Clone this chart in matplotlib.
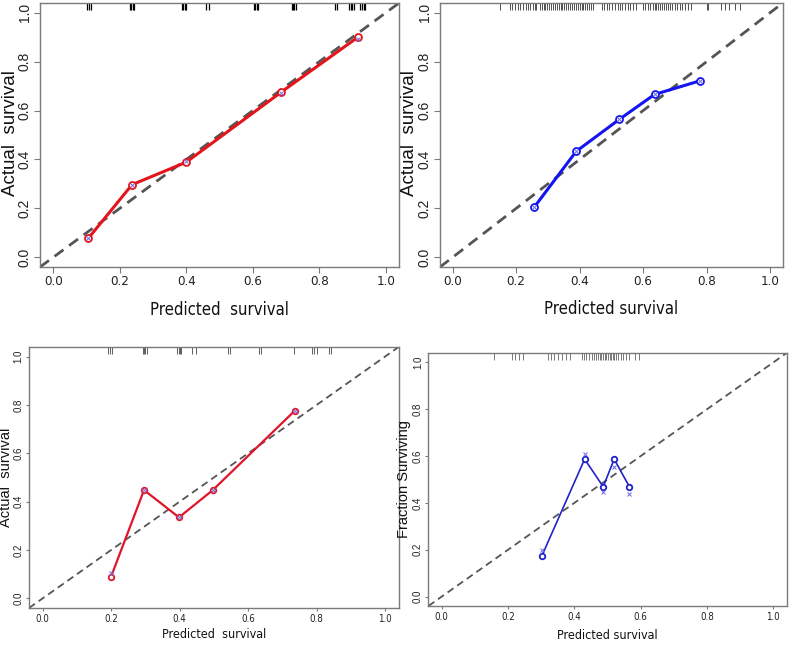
import matplotlib
matplotlib.use("Agg")
import matplotlib.pyplot as plt
import matplotlib.transforms as mtransforms
from matplotlib import font_manager

# Panel A: red calibration curve (top left)
a_pred = [0.105, 0.237, 0.400, 0.685, 0.916]
a_obs = [0.077, 0.297, 0.389, 0.675, 0.900]
a_corr = [0.080, 0.295, 0.392, 0.672, 0.893]
a_err = [0.012, 0.012, 0.012, 0.012, 0.012]
a_rug = [0.101, 0.106, 0.112, 0.231, 0.235, 0.239, 0.243, 0.387, 0.391, 0.395, 0.399,
         0.458, 0.468, 0.604, 0.608, 0.612, 0.616, 0.717, 0.721, 0.725, 0.729,
         0.848, 0.853, 0.890, 0.895, 0.900, 0.905, 0.924, 0.929, 0.934, 0.938]

# Panel B: blue calibration curve (top right)
b_pred = [0.257, 0.389, 0.525, 0.636, 0.780]
b_obs = [0.205, 0.433, 0.564, 0.666, 0.722]
b_corr = [0.205, 0.433, 0.564, 0.666, 0.722]
b_err = [0.012, 0.012, 0.012, 0.012, 0.012]
b_rug = [0.149, 0.180, 0.186, 0.195, 0.205, 0.213, 0.222, 0.231, 0.238, 0.245, 0.252,
         0.258, 0.262, 0.275, 0.281, 0.287, 0.292, 0.298, 0.304, 0.310, 0.316, 0.322,
         0.328, 0.334, 0.340, 0.346, 0.352, 0.358, 0.364, 0.370, 0.376, 0.382, 0.388,
         0.394, 0.400, 0.406, 0.412, 0.418, 0.424, 0.430, 0.436, 0.443, 0.470, 0.478,
         0.486, 0.494, 0.503, 0.512, 0.520, 0.528, 0.535, 0.543, 0.552, 0.560, 0.568,
         0.578, 0.600, 0.607, 0.614, 0.622, 0.630, 0.636, 0.642, 0.648, 0.654, 0.660,
         0.666, 0.672, 0.678, 0.685, 0.692, 0.700, 0.708, 0.716, 0.724, 0.732, 0.742,
         0.752, 0.800, 0.806, 0.845, 0.858, 0.872, 0.890, 0.905]

# Panel C: red calibration curve (bottom left)
c_pred = [0.199, 0.296, 0.398, 0.497, 0.737]
c_obs = [0.087, 0.448, 0.335, 0.448, 0.777]
c_corr = [0.106, 0.448, 0.335, 0.448, 0.777]
c_err = [0.008, 0.008, 0.008, 0.008, 0.008]
c_rug = [0.192, 0.197, 0.203, 0.292, 0.296, 0.300, 0.304, 0.392, 0.397, 0.401, 0.405,
         0.437, 0.447, 0.542, 0.547, 0.632, 0.637, 0.735, 0.787, 0.793, 0.800, 0.836, 0.842]

# Panel D: blue calibration curve (bottom right)
d_pred = [0.302, 0.431, 0.487, 0.520, 0.566]
d_obs = [0.174, 0.587, 0.469, 0.587, 0.469]
d_corr = [0.199, 0.607, 0.448, 0.555, 0.437]
d_err = [0.008, 0.008, 0.008, 0.008, 0.008]
d_rug = [0.158, 0.212, 0.222, 0.232, 0.246, 0.322, 0.330, 0.338, 0.352, 0.362, 0.375,
         0.386, 0.422, 0.428, 0.436, 0.445, 0.452, 0.458, 0.464, 0.470, 0.476, 0.481,
         0.486, 0.491, 0.496, 0.501, 0.506, 0.511, 0.516, 0.521, 0.527, 0.533, 0.540,
         0.548, 0.556, 0.566, 0.584, 0.594]

ticks = [0.0, 0.2, 0.4, 0.6, 0.8, 1.0]
tick_labels = ["0.0", "0.2", "0.4", "0.6", "0.8", "1.0"]

# The x labels of the original use a narrow face; look for one that is installed
narrow_file = None
for want in ["LiberationSansNarrow-Regular", "NotoSans-Condensed.", "NotoSans-ExtraCondensed.",
             "NotoSans-SemiCondensed.", "DejaVuSansCondensed."]:
    for f in font_manager.fontManager.ttflist:
        if want in f.fname.replace("\\", "/").split("/")[-1]:
            narrow_file = f.fname
            break
    if narrow_file:
        break


def narrow_font(size):
    if narrow_file:
        return font_manager.FontProperties(fname=narrow_file, size=size)
    return font_manager.FontProperties(family="Liberation Sans", size=size * 0.85)


wide = ["Liberation Sans", "DejaVu Sans"]

fig = plt.figure(figsize=(7.89, 6.47), dpi=100)

# one dict per panel: axes rectangle, data, styling
panels = [
    dict(rect=[0.0507, 0.5873, 0.455, 0.408], pred=a_pred, obs=a_obs, corr=a_corr, err=a_err,
         rug=a_rug, color="#e3151b", lw=2.2, ms=5, dash_lw=2.0, rug_color="black", rug_lw=0.9,
         ylabel="Actual  survival", xlabel="Predicted  survival", tick_len=4, pad=2,
         xl=(0.50, -0.163), yl=(-0.083, 0.509), ylab_fs=13.5, xlab_fs=12, xt_fs=9.5, yt_fs=10),
    dict(rect=[0.5577, 0.5873, 0.4343, 0.408], pred=b_pred, obs=b_obs, corr=b_corr, err=b_err,
         rug=b_rug, color="#1414f0", lw=2.2, ms=5, dash_lw=2.0, rug_color="#333333", rug_lw=0.6,
         ylabel="Actual  survival", xlabel="Predicted survival", tick_len=4, pad=2,
         xl=(0.499, -0.159), yl=(-0.090, 0.509), ylab_fs=13.5, xlab_fs=12, xt_fs=9.5, yt_fs=10),
    dict(rect=[0.0368, 0.0603, 0.4685, 0.4034], pred=c_pred, obs=c_obs, corr=c_corr, err=c_err,
         rug=c_rug, color="#e0152a", lw=1.6, ms=4, dash_lw=1.3, rug_color="#444444", rug_lw=0.6,
         ylabel="Actual  survival", xlabel="Predicted  survival", tick_len=2.5, pad=1.5,
         xl=(0.50, -0.103), yl=(-0.062, 0.50), ylab_fs=10.5, xlab_fs=9, xt_fs=7, yt_fs=7),
    dict(rect=[0.543, 0.0634, 0.454, 0.391], pred=d_pred, obs=d_obs, corr=d_corr, err=d_err,
         rug=d_rug, color="#2222cc", lw=1.2, ms=4, dash_lw=1.3, rug_color="#444444", rug_lw=0.5,
         ylabel="Fraction Surviving", xlabel="Predicted survival", tick_len=2.5, pad=1.5,
         xl=(0.498, -0.118), yl=(-0.067, 0.50), ylab_fs=10.5, xlab_fs=9, xt_fs=7, yt_fs=7),
]

for p in panels:
    ax = fig.add_axes(p["rect"])
    ax.set_xlim(-0.04, 1.04)
    ax.set_ylim(-0.04, 1.04)

    # ideal line
    ax.plot([-0.04, 1.04], [-0.04, 1.04], linestyle=(0, (4, 2.5)), color="#555555",
            linewidth=p["dash_lw"], zorder=1)

    # observed curve with small error bars
    ax.plot(p["pred"], p["obs"], color=p["color"], linewidth=p["lw"], zorder=3)
    ax.errorbar(p["pred"], p["obs"], yerr=p["err"], fmt="o", mfc="white", mec=p["color"],
                ecolor=p["color"], ms=p["ms"], mew=1.3, elinewidth=1.2, capsize=0, zorder=4)
    # bias-corrected estimates
    ax.plot(p["pred"], p["corr"], linestyle="none", marker="x", color="#6a6ae0",
            ms=p["ms"] - 1.5, mew=0.7, zorder=5)

    # rug of predicted values along the top
    trans = mtransforms.blended_transform_factory(ax.transData, ax.transAxes)
    ax.vlines(p["rug"], 0.972, 1.0, transform=trans, color=p["rug_color"],
              linewidth=p["rug_lw"], zorder=2)

    for s in ax.spines.values():
        s.set_color("#7a7a7a")
        s.set_linewidth(1.0)

    ax.set_xticks(ticks)
    ax.set_yticks(ticks)
    ax.set_xticklabels(tick_labels, fontproperties=narrow_font(p["xt_fs"]), color="#222222")
    ax.set_yticklabels(tick_labels, family=wide, fontsize=p["yt_fs"], color="#222222",
                       rotation=90, va="center")
    ax.tick_params(direction="out", length=p["tick_len"], width=0.8, color="#7a7a7a",
                   pad=p["pad"])

    ax.text(p["xl"][0], p["xl"][1], p["xlabel"], transform=ax.transAxes, ha="center",
            va="center", fontproperties=narrow_font(p["xlab_fs"]), color="#111111")
    ax.text(p["yl"][0], p["yl"][1], p["ylabel"], transform=ax.transAxes, ha="center",
            va="center", rotation=90, family=wide, fontsize=p["ylab_fs"], color="#111111")

fig.savefig("out.png", dpi=100)
